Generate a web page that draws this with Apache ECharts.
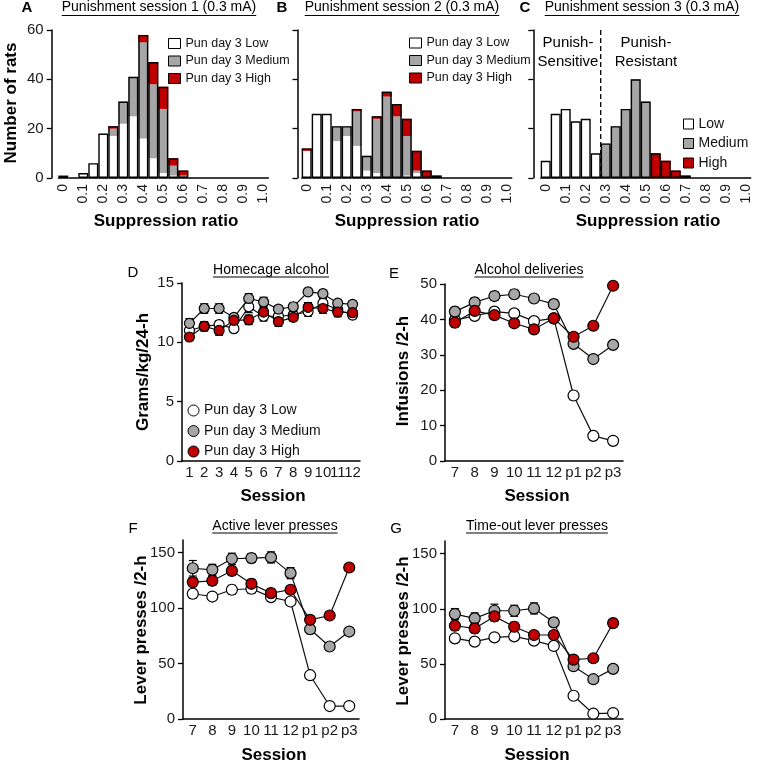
<!DOCTYPE html>
<html><head><meta charset="utf-8">
<script src="https://cdn.jsdelivr.net/npm/echarts@6/dist/echarts.min.js"></script>
<style>html,body{margin:0;padding:0;background:#fff}#c{width:759px;height:768px}</style>
</head><body><div id="c"></div>
<script>
// ---------- DATA ----------
const bins = ["0","0.05","0.1","0.15","0.2","0.25","0.3","0.35","0.4","0.45","0.5","0.55","0.6","0.65","0.7","0.75","0.8","0.85","0.9","0.95","1.0"];
// Panel A: punishment session 1 (counts per bin)
const s1Low  = [1,0,2,6,18,17,22,25,16,8,2,1,0,0,0,0,0,0,0,0,0];
const s1Med  = [0,0,0,0,0,3,9,16,39,30,26,4,1,0,0,0,0,0,0,0,0];
const s1High = [0,0,0,0,0,1,0,0,3,9,9,3,2,0,0,0,0,0,0,0,0];
// Panel B: punishment session 2
const s2Low  = [11,26,26,15,17,13,3,2,0,0,1,2,0,0,0,0,0,0,0,0,0];
const s2Med  = [0,0,0,6,4,14,6,22,33,25,16,1,0,0,0,0,0,0,0,0,0];
const s2High = [1,0,0,0,0,1,0,1,2,5,7,8,3,1,0,0,0,0,0,0,0];
// Panel C: punishment session 3
const s3Low  = [7,26,28,23,24,10,0,0,0,0,0,0,0,0,0,0,0,0,0,0,0];
const s3Med  = [0,0,0,0,0,0,14,21,28,40,31,0,0,0,0,0,0,0,0,0,0];
const s3High = [0,0,0,0,0,0,0,0,0,0,0,10,7,3,1,0,0,0,0,0,0];

const sessD = ["1","2","3","4","5","6","7","8","9","10","11","12"];
const sessP = ["7","8","9","10","11","12","p1","p2","p3"];
// Panel D: homecage alcohol (g/kg/24-h)
const dLow  = [11.0,11.35,11.5,11.15,13.0,12.2,12.2,12.3,12.6,13.3,12.75,12.3];
const dMed  = [11.6,12.85,12.85,12.1,13.7,13.4,12.8,13.0,14.25,14.1,13.3,13.2];
const dHigh = [10.45,11.35,11.0,11.85,11.9,12.55,11.75,12.1,12.95,12.85,12.55,12.5];
const dErrLow  = [0.4,0.3,0.3,0.3,0.5,0.4,0.3,0.3,0.4,0.4,0.3,0.3];
const dErrMed  = [0.4,0.4,0.4,0.3,0.4,0.4,0.3,0.3,0.3,0.3,0.3,0.3];
const dErrHigh = [0.3,0.4,0.4,0.4,0.4,0.4,0.4,0.3,0.4,0.4,0.4,0.4];
// Panel E: alcohol deliveries (infusions / 2-h)
const eLow  = [39.8,41.0,42.2,41.7,39.5,40.3,18.5,7.1,5.7];
const eMed  = [42.2,44.8,46.6,47.1,45.9,44.3,33.1,28.8,32.8];
const eHigh = [39.1,42.4,41.2,38.9,37.2,40.3,35.1,38.2,49.5];
const eErrLow  = [1.2,1.0,1.0,1.0,1.0,1.0,1.2,0.8,0.8];
const eErrMed  = [1.2,1.2,1.2,1.2,1.0,1.2,1.0,1.0,1.0];
const eErrHigh = [1.2,1.2,1.0,1.0,1.0,1.0,1.0,1.0,1.0];
// Panel F: active lever presses
const fLow  = [113,110.5,116.6,117.5,110,106,39.5,11.7,11.7];
const fMed  = [136,134.6,144.6,145.2,145.8,131.6,81,65.4,78.9];
const fHigh = [123.5,124.7,133.7,122,113.6,116.6,89.5,93.4,136.7];
const fErrLow  = [4,3,4,4,3,3,3,2,2];
const fErrMed  = [7,5,5,4,5,5,4,3,3];
const fErrHigh = [4,4,4,4,4,3,3,3,3];
// Panel G: time-out lever presses
const gLow  = [73.2,70.2,74.1,75,71.1,66.3,21.1,4.8,5.4];
const gMed  = [95.2,91.3,98.2,98.2,100.3,87.7,47.9,36.1,45.5];
const gHigh = [84.6,82.2,93.1,83.7,76.2,76.2,53.9,55.1,87];
const gErrLow  = [3,3,3,3,3,3,3,2,2];
const gErrMed  = [5,5,6,5,5,4,3,3,3];
const gErrHigh = [4,4,4,4,3,3,3,3,3];

const groupNames = ["Pun day 3 Low","Pun day 3 Medium","Pun day 3 High"];
const groupNamesC = ["Low","Medium","High"];

// ---------- STYLE ----------
const FONT = 'Liberation Sans, Arial, Helvetica, sans-serif';
const WHITE = '#ffffff', GRAY = '#a6a6a6', RED = '#c00000', INK = '#1a1a1a';
const fills = [WHITE, GRAY, RED];

const chart = echarts.init(document.getElementById('c'), null, {renderer:'canvas'});

const grids = [
  {left:58.3, top:30, width:210, height:148},   // A
  {left:301.7, top:30, width:210, height:148},  // B
  {left:540.7, top:30, width:210, height:148},  // C
  {left:182, top:283, width:178, height:178},   // D
  {left:445, top:284, width:178, height:177},   // E
  {left:183, top:540, width:176, height:179},   // F
  {left:445, top:541, width:178, height:178}    // G
];
const yOffsets = [6.6, 4.2, 7.4];

const axisLineStyle = {color:'#000', width:1.5};
const xAxes = [], yAxes = [];
for (let g = 0; g < 3; g++) {
  xAxes.push({type:'category', gridIndex:g, data:bins,
    axisLine:{lineStyle:axisLineStyle},
    axisTick:{alignWithLabel:true, interval:1, length:5, lineStyle:{color:'#000', width:1.3}},
    axisLabel:{interval:1, rotate:90, fontSize:14, color:INK, margin:6, fontFamily:FONT}});
  yAxes.push({type:'value', gridIndex:g, min:0, max:60, interval:20, offset:yOffsets[g],
    axisLine:{show:true, lineStyle:axisLineStyle},
    axisTick:{show:true, length:5, lineStyle:{color:'#000', width:1.3}},
    splitLine:{show:false},
    axisLabel:{show:g===0, fontSize:15, color:INK, margin:8, fontFamily:FONT}});
}
const lineX = [sessD, sessP, sessP, sessP];
const lineY = [
  {min:0, max:15, interval:5},
  {min:0, max:50, interval:10},
  {min:0, max:161.5, custom:[0,50,100,150]},
  {min:0, max:161.5, custom:[0,50,100,150]}
];
for (let k = 0; k < 4; k++) {
  const g = k + 3;
  xAxes.push({type:'category', gridIndex:g, data:lineX[k], boundaryGap:true,
    axisLine:{lineStyle:axisLineStyle},
    axisTick:{alignWithLabel:true, length:5, lineStyle:{color:'#000', width:1.3}},
    axisLabel:{interval:0, fontSize:15, color:INK, margin:4, fontFamily:FONT, hideOverlap:false}});
  const ya = {type:'value', gridIndex:g, min:lineY[k].min, max:lineY[k].max,
    axisLine:{show:true, lineStyle:axisLineStyle},
    axisTick:{show:true, length:5, lineStyle:{color:'#000', width:1.3}},
    splitLine:{show:false},
    axisLabel:{fontSize:15, color:INK, margin:8, fontFamily:FONT}};
  if (lineY[k].interval) ya.interval = lineY[k].interval;
  if (lineY[k].custom) { ya.axisLabel.customValues = lineY[k].custom; ya.axisTick.customValues = lineY[k].custom; }
  yAxes.push(ya);
}

const series = [];
function barPanel(g, arrs, names) {
  const total = arrs[0].map((v,i) => v + arrs[1][i] + arrs[2][i]);
  arrs.forEach((a, j) => {
    series.push({type:'bar', name:names[j], xAxisIndex:g, yAxisIndex:g, stack:'s'+g,
      data:a.map(v => v > 0 ? v : 0), barCategoryGap:'0%', barGap:'-100%',
      itemStyle:{color:fills[j], borderWidth:0}, z:2});
  });
  series.push({type:'bar', name:'outline'+g, xAxisIndex:g, yAxisIndex:g,
    data: total.map(v => v > 0 ? v : '-'), barCategoryGap:'0%', barGap:'-100%',
    itemStyle:{color:'rgba(0,0,0,0)', borderColor:'#000', borderWidth:1.4}, z:3, silent:true});
}
barPanel(0, [s1Low, s1Med, s1High], groupNames);
barPanel(1, [s2Low, s2Med, s2High], groupNames);
barPanel(2, [s3Low, s3Med, s3High], groupNamesC);

function errRender(params, api) {
  const x = api.value(0);
  const p1 = api.coord([x, api.value(1)]);
  const p2 = api.coord([x, api.value(2)]);
  const w = 4, st = {stroke:'#000', lineWidth:1.2};
  return {type:'group', children:[
    {type:'line', shape:{x1:p1[0], y1:p1[1], x2:p2[0], y2:p2[1]}, style:st},
    {type:'line', shape:{x1:p1[0]-w, y1:p1[1], x2:p1[0]+w, y2:p1[1]}, style:st},
    {type:'line', shape:{x1:p2[0]-w, y1:p2[1], x2:p2[0]+w, y2:p2[1]}, style:st}
  ]};
}
function linePanel(g, vals, errs, size) {
  vals.forEach((v, j) => {
    series.push({type:'custom', name:'err'+g+'_'+j, xAxisIndex:g, yAxisIndex:g,
      renderItem:errRender, encode:{x:0, y:[1,2]}, silent:true, z:1,
      data: v.map((y, i) => [i, y - errs[j][i], y + errs[j][i]])});
  });
  vals.forEach((v, j) => {
    series.push({type:'line', name:groupNames[j], xAxisIndex:g, yAxisIndex:g, data:v,
      symbol:'circle', symbolSize:size, showAllSymbol:true,
      lineStyle:{color:'#111', width:1.2},
      itemStyle:{color:fills[j], borderColor:'#000', borderWidth:1.2}, z:2+j});
  });
}
linePanel(3, [dLow, dMed, dHigh], [dErrLow, dErrMed, dErrHigh], 10);
linePanel(4, [eLow, eMed, eHigh], [eErrLow, eErrMed, eErrHigh], 11);
linePanel(5, [fLow, fMed, fHigh], [fErrLow, fErrMed, fErrHigh], 11);
linePanel(6, [gLow, gMed, gHigh], [gErrLow, gErrMed, gErrHigh], 11);

function legendItems(names, icon) {
  return names.map((n, j) => ({name:n, icon:icon,
    itemStyle:{color:fills[j], borderColor:'#000', borderWidth:1}}));
}
const legendBase = {orient:'vertical', padding:0, selectedMode:false};
const legends = [
  Object.assign({}, legendBase, {left:168, top:37, itemWidth:12, itemHeight:10, itemGap:4.5,
    data:legendItems(groupNames,'rect'), textStyle:{fontSize:12.5, color:'#111', fontFamily:FONT}}),
  Object.assign({}, legendBase, {left:409, top:36.5, itemWidth:12, itemHeight:10, itemGap:4.5,
    data:legendItems(groupNames,'rect'), textStyle:{fontSize:12.5, color:'#111', fontFamily:FONT}}),
  Object.assign({}, legendBase, {left:683, top:117, itemWidth:10, itemHeight:10, itemGap:5.5,
    data:legendItems(groupNamesC,'rect'), textStyle:{fontSize:14, color:'#111', fontFamily:FONT}}),
  Object.assign({}, legendBase, {left:187.5, top:403.5, itemWidth:11, itemHeight:11, itemGap:6.5,
    data:legendItems(groupNames,'circle'), textStyle:{fontSize:14, color:'#111', fontFamily:FONT}})
];

chart.setOption({
  animation:false,
  backgroundColor:'#fff',
  grid:grids, xAxis:xAxes, yAxis:yAxes, series:series, legend:legends
});

// ---------- TEXT / ANNOTATIONS ----------
const ctx = document.createElement('canvas').getContext('2d');
function tw(t, size, weight) { ctx.font = (weight||'normal') + ' ' + size + 'px ' + FONT; return ctx.measureText(t).width; }
const gfx = [];
function T(text, x, y, size, weight, rot, extra) {
  gfx.push(Object.assign({type:'text', x:x, y:y, rotation:rot||0,
    style:{text:text, fontSize:size, fontWeight:weight||'normal', fontFamily:FONT, fill:'#000',
      textAlign:'center', textVerticalAlign:'middle'}}, extra||{}));
}
function titleU(text, x, y, uy) {
  T(text, x, y, 14, 'normal');
  const w = tw(text, 14, 'normal');
  gfx.push({type:'line', shape:{x1:x-w/2, y1:uy, x2:x+w/2, y2:uy}, style:{stroke:'#000', lineWidth:1}});
}
// panel letters
T('A', 27, 8, 15, 'bold'); T('B', 282, 8, 15, 'bold'); T('C', 525, 8, 15, 'bold');
T('D', 133, 273, 15); T('E', 394, 274, 15); T('F', 133, 529, 15); T('G', 396, 529, 15);
// titles
titleU('Punishment session 1 (0.3 mA)', 159, 7.5, 15.5);
titleU('Punishment session 2 (0.3 mA)', 402, 7.5, 15.5);
titleU('Punishment session 3 (0.3 mA)', 642, 7.5, 15.5);
titleU('Homecage alcohol', 271, 270.5, 277);
titleU('Alcohol deliveries', 529, 270.5, 277);
titleU('Active lever presses', 275, 526.5, 533);
titleU('Time-out lever presses', 537, 526.5, 533);
// axis titles
const R = Math.PI / 2;
T('Number of rats', 11, 103, 17, 'bold', R);
T('Suppression ratio', 166, 221, 17, 'bold');
T('Suppression ratio', 407, 221, 17, 'bold');
T('Suppression ratio', 648, 221, 17, 'bold');
T('Grams/kg/24-h', 143, 372, 17, 'bold', R);
T('Infusions /2-h', 403, 371, 17, 'bold', R);
T('Lever presses /2-h', 141, 630, 17, 'bold', R);
T('Lever presses /2-h', 403, 631, 17, 'bold', R);
T('Session', 273, 496, 17, 'bold');
T('Session', 537, 496, 17, 'bold');
T('Session', 274, 755, 17, 'bold');
T('Session', 537, 755, 17, 'bold');
// C annotations
gfx.push({type:'text', x:568, y:52.5, style:{text:'Punish-\nSensitive', fontSize:15, fontFamily:FONT, fill:'#000',
  textAlign:'center', textVerticalAlign:'middle', lineHeight:19}});
gfx.push({type:'text', x:646, y:52.5, style:{text:'Punish-\nResistant', fontSize:15, fontFamily:FONT, fill:'#000',
  textAlign:'center', textVerticalAlign:'middle', lineHeight:19}});
// dashed threshold line in C, between bins 0.25 and 0.3
const xa = chart.convertToPixel({xAxisIndex:2}, bins[5]);
const xb = chart.convertToPixel({xAxisIndex:2}, bins[6]);
const yTop = chart.convertToPixel({yAxisIndex:2}, 60);
const yBot = chart.convertToPixel({yAxisIndex:2}, 0);
const xd = (xa + xb) / 2;
gfx.push({type:'line', shape:{x1:xd, y1:yTop, x2:xd, y2:yBot}, style:{stroke:'#000', lineWidth:1.3, lineDash:[5,3]}, z:10});

chart.setOption({graphic:{elements:gfx}});
</script>
</body></html>
